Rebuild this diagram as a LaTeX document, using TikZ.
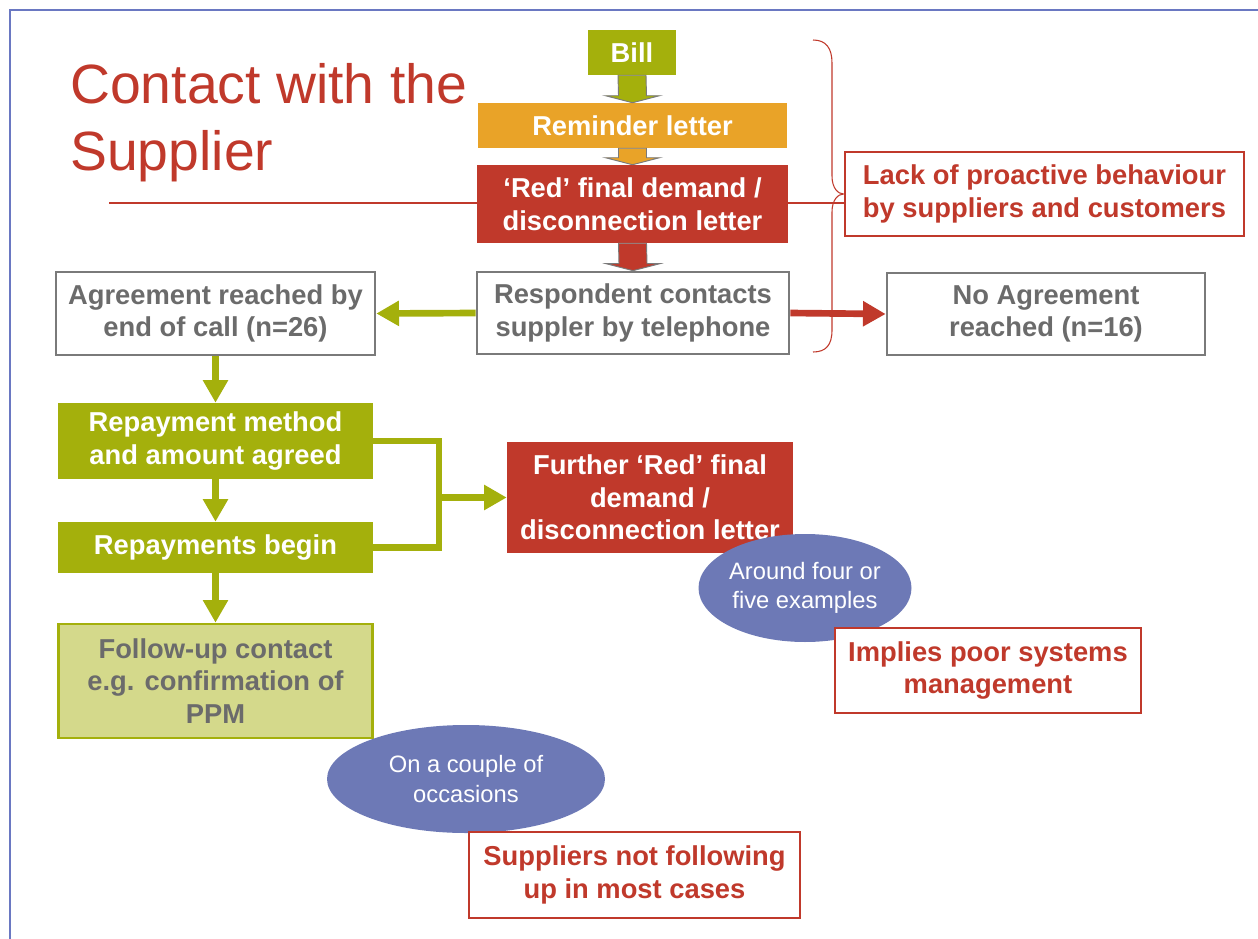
\documentclass[tikz,border=0pt]{standalone}
\usepackage{fontspec}
\setmainfont{Liberation Sans}
\usetikzlibrary{arrows.meta,calc,shapes.geometric}
\definecolor{cgreen}{HTML}{A4B00C}
\definecolor{corange}{HTML}{E9A328}
\definecolor{cred}{HTML}{C0392B}
\definecolor{cgray}{HTML}{6B6B6B}
\definecolor{cbord}{HTML}{7A7A7A}
\definecolor{clight}{HTML}{D4D98B}
\definecolor{cell}{HTML}{6D79B6}
\definecolor{cframe}{HTML}{6A78C2}
\newcommand{\blockarrow}[3]{%
  \filldraw[fill=#3, draw=cbord, line width=0.7pt]
    ($(#1.south)+(-14,0)$) -- ($(#1.south)+(14,0)$) -- ($(#2.north)+(14,-7)$) --
    ($(#2.north)+(27,-7)$) -- (#2.north) -- ($(#2.north)+(-27,-7)$) --
    ($(#2.north)+(-14,-7)$) -- cycle;}
\begin{document}
\begin{tikzpicture}[x=0.75pt,y=-0.75pt,
  box/.style={rectangle, inner sep=0pt, align=center,
    font=\bfseries\fontsize{20.5}{24.5}\selectfont},
  solidbox/.style={box, fill=#1, text=white},
  greybox/.style={box, draw=cbord, line width=2pt, fill=white, text=cgray},
  notebox/.style={box, draw=cred, line width=2.2pt, fill=white, text=cred},
  bubble/.style={ellipse, fill=cell, text=white, inner sep=-12pt, align=center,
    font=\fontsize{17.8}{21.8}\selectfont},
  conn/.style={line width=5pt, -{Triangle[length=17pt,width=18pt]}},
  bar/.style={line width=5pt}]
\useasboundingbox (0,0) rectangle (1258,939);
% slide frame
\draw[cframe, line width=1.5pt] (1258,10) -- (10,10) -- (10,939);
% title
\node[anchor=base west, inner sep=0pt, text=cred, font=\fontsize{41.5}{50}\selectfont] (title1) at (70,103) {Contact with the};
\node[anchor=base west, inner sep=0pt, text=cred, font=\fontsize{41.5}{50}\selectfont] (title2) at (70,170) {Supplier};
% nodes
\node[notebox, minimum width=299.25pt, minimum height=63pt] (lack) at (1044.5,194) {Lack of proactive behaviour\\by suppliers and customers};
\draw[cred, line width=0.8pt] (109,203) -- (lack.west |- 0,203);
\draw[cred, line width=0.8pt] (813,40) .. controls (826,40) and (832,48) .. (832,63) -- (832,176)
  .. controls (832,188) and (838,194) .. (lack.west)
  .. controls (838,194) and (832,200) .. (832,212) -- (832,330)
  .. controls (832,345) and (826,352) .. (813,352);
\node[solidbox=cgreen, minimum width=66pt, minimum height=33.75pt] (bill) at (632,52.5) {Bill};
\node[solidbox=corange, minimum width=231.75pt, minimum height=33.75pt] (rem) at (632.5,125.5) {Reminder letter};
\node[solidbox=cred, minimum width=233.25pt, minimum height=58.5pt] (red1) at (632.5,204) {‘Red’ final demand /\\disconnection letter};
\node[greybox, minimum width=234pt, minimum height=61.5pt] (resp) at (633,313) {Respondent contacts\\suppler by telephone};
\node[greybox, minimum width=239.25pt, minimum height=62.25pt] (agr) at (215.5,313.5) {Agreement reached by\\end of call (n=26)};
\node[greybox, minimum width=238.5pt, minimum height=61.5pt] (noag) at (1046,314) {No Agreement\\reached (n=16)};
\node[solidbox=cgreen, minimum width=236.25pt, minimum height=57pt] (rm) at (215.5,441) {Repayment method\\and amount agreed};
\node[solidbox=cgreen, minimum width=236.25pt, minimum height=38.25pt] (rb) at (215.5,547.5) {Repayments begin};
\node[box, fill=clight, draw=cgreen, line width=2pt, text=cgray, minimum width=235.5pt, minimum height=85.5pt] (fu) at (215.5,681) {Follow-up contact\\e.g. confirmation of\\PPM};
\node[solidbox=cred, minimum width=214.5pt, minimum height=83.25pt] (further) at (650,497.5) {Further ‘Red’ final\\demand /\\disconnection letter};
\node[bubble, minimum width=159.75pt, minimum height=81pt] (ell1) at (805,588) {Around four or\\five examples};
\node[notebox, minimum width=229.5pt, minimum height=63.75pt] (impl) at (988,670.5) {Implies poor systems\\management};
\node[bubble, minimum width=208.5pt, minimum height=81pt] (ell2) at (466,779) {On a couple of\\occasions};
\node[notebox, minimum width=248.25pt, minimum height=64.5pt] (supp) at (634.5,875) {Suppliers not following\\up in most cases};
% block arrows
\blockarrow{bill}{rem}{cgreen}
\blockarrow{rem}{red1}{corange}
\blockarrow{red1}{resp}{cred}
% connectors
\draw[conn, cgreen] (resp.west) -- (agr.east);
\draw[conn, cred] (resp.east) -- (noag.west);
\draw[conn, cgreen] (agr.south) -- (rm.north);
\draw[conn, cgreen] (rm.south) -- (rb.north);
\draw[conn, cgreen] (rb.south) -- (fu.north);
\coordinate (jn) at (439,497.5);
\draw[bar, cgreen] (rm.east) -| (jn) |- (rb.east);
\draw[conn, cgreen] (jn) -- (further.west);
\end{tikzpicture}
\end{document}
